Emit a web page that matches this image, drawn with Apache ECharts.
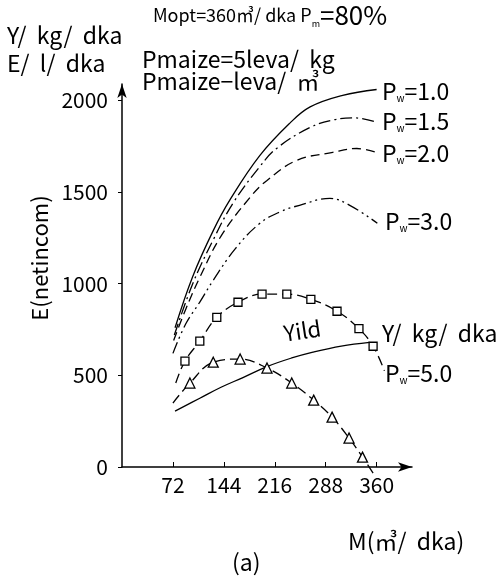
<!DOCTYPE html>
<html>
<head>
<meta charset="utf-8">
<script src="https://cdn.jsdelivr.net/npm/echarts@6/dist/echarts.min.js"></script>
<style>
html, body { margin: 0; padding: 0; background: #fff; }
#chart { width: 501px; height: 586px; }
</style>
</head>
<body>
<div id="chart"></div>
<script>
// tick labels
var xTicks = [72, 144, 216, 288, 360];
var yTicks = [0, 500, 1000, 1500, 2000];

// net income curves, [M, E]
var pw10 = [[75, 760], [100, 1040], [129, 1290], [153, 1460], [195, 1700], [237, 1875], [266, 1965], [312, 2028], [360, 2060]];
var pw15 = [[74, 720], [100, 1000], [129, 1240], [157, 1440], [195, 1640], [219, 1740], [266, 1853], [300, 1895], [330, 1905], [357, 1885]];
var pw20 = [[73, 690], [90, 860], [110, 1035], [140, 1260], [181, 1471], [205, 1564], [247, 1673], [298, 1717], [332, 1738], [360, 1717]];
var pw30 = [[72, 620], [90, 780], [110, 900], [129, 1019], [160, 1190], [195, 1330], [225, 1395], [251, 1428], [294, 1466], [322, 1428], [361, 1330]];
var pw50 = [[76, 458], [89, 578], [110, 687], [134, 817], [164, 899], [198, 943], [233, 943], [267, 915], [304, 850], [335, 755], [355, 659], [371, 525]];
var tri = [[72, 349], [96, 458], [129, 572], [167, 589], [205, 540], [240, 458], [271, 365], [297, 272], [321, 158], [340, 54], [355, -33]];
var yild = [[75, 305], [110, 375], [140, 435], [171, 488], [205, 548], [240, 595], [270, 627], [310, 660], [350, 680]];

var font = "'Noto Sans CJK JP', 'Noto Sans', sans-serif";

// first/last points are only line ends, no marker
function marked(arr) {
	return arr.map(function (p, i) {
		if (i == 0 || i == arr.length - 1) return { value: p, symbol: 'none' };
		return p;
	});
}

function curve(name, data, dash) {
	return {
		name: name,
		type: 'line',
		smooth: 0.4,
		data: data,
		symbol: 'none',
		clip: false,
		lineStyle: { color: '#000', width: 1.3, type: dash },
		z: 2
	};
}

function pwLabel(x, y, v) {
	return {
		type: 'text', left: x, top: y,
		style: {
			rich: {
				p: { fontSize: 23, fontFamily: font, fill: '#000' },
				s: { fontSize: 10, fontFamily: font, fill: '#000', verticalAlign: 'bottom', padding: [10, 0, 0, 0] }
			},
			text: '{p|P}{s|w}{p|=' + v + '}'
		}
	};
}

function plainText(x, y, t, size, rot) {
	return {
		type: 'text', left: x, top: y, rotation: rot || 0,
		style: { text: t, fontSize: size, fontFamily: font, fill: '#000' }
	};
}

var myChart = echarts.init(document.getElementById('chart'));
var option = {
	backgroundColor: '#fff',
	animation: false,
	grid: { left: 122, top: 84, width: 290, height: 383 },
	xAxis: {
		type: 'value', min: 0, max: 410,
		axisLine: { show: true, symbol: ['none', 'arrow'], symbolSize: [7, 14], lineStyle: { color: '#000', width: 1.5 } },
		axisTick: { show: true, inside: true, length: 5, customValues: xTicks, lineStyle: { color: '#000' } },
		axisLabel: { customValues: xTicks, margin: 8, color: '#000', fontSize: 21, fontFamily: font },
		splitLine: { show: false }
	},
	yAxis: {
		type: 'value', min: 0, max: 2090,
		axisLine: { show: true, symbol: ['none', 'arrow'], symbolSize: [7, 14], lineStyle: { color: '#000', width: 1.5 } },
		axisTick: { show: true, length: 4, customValues: yTicks, lineStyle: { color: '#000' } },
		axisLabel: {
			customValues: yTicks, margin: 14, color: '#000', fontSize: 21, fontFamily: font,
			formatter: function (v) { return String(v); }
		},
		splitLine: { show: false }
	},
	series: [
		curve('Pw=1.0', pw10, 'solid'),
		curve('Pw=1.5', pw15, [12, 4, 2, 4]),
		curve('Pw=2.0', pw20, [9, 5]),
		curve('Pw=3.0', pw30, [12, 4, 2, 4, 2, 4]),
		Object.assign(curve('Pw=5.0', marked(pw50), [10, 5]), {
			symbol: 'rect', symbolSize: 8, showSymbol: true,
			itemStyle: { color: '#fff', borderColor: '#000', borderWidth: 1.3 }
		}),
		Object.assign(curve('tri', marked(tri), [10, 5]), {
			symbol: 'triangle', symbolSize: 10, showSymbol: true,
			itemStyle: { color: '#fff', borderColor: '#000', borderWidth: 1.3 }
		}),
		curve('Yild', yild, 'solid')
	],
	graphic: [
		{
			type: 'text', left: 153, top: 2,
			style: {
				rich: {
					a: { fontSize: 18, fontFamily: font, fill: '#000' },
					s: { fontSize: 9, fontFamily: font, fill: '#000', verticalAlign: 'bottom', padding: [8, 0, 0, 0] },
					b: { fontSize: 26, fontFamily: font, fill: '#000' }
				},
				text: '{a|Mopt=360㎥/ dka P}{s|m}{b|=80%}'
			}
		},
		// y axis name, reads bottom to top
		{
			type: 'text', x: 40, y: 258, rotation: Math.PI / 2,
			style: { text: 'E(netincom)', fontSize: 22, fontFamily: font, fill: '#000', align: 'center', verticalAlign: 'middle' }
		},
		plainText(7, 24, 'Y/  kg/  dka', 23),
		plainText(7, 52, 'E/  l/  dka', 23),
		plainText(142, 48, 'Pmaize=5leva/  kg', 23),
		plainText(142, 70, 'Pmaize−leva/  ㎥', 23),
		pwLabel(382, 80, '1.0'),
		pwLabel(382, 110, '1.5'),
		pwLabel(382, 142, '2.0'),
		pwLabel(385, 210, '3.0'),
		plainText(382, 322, 'Y/  kg/  dka', 23),
		pwLabel(385, 362, '5.0'),
		plainText(282, 317, 'Yild', 22, 0.15),
		plainText(348, 530, 'M(㎥/  dka)', 23),
		plainText(232, 551, '(a)', 23)
	]
};
myChart.setOption(option);
</script>
</body>
</html>
